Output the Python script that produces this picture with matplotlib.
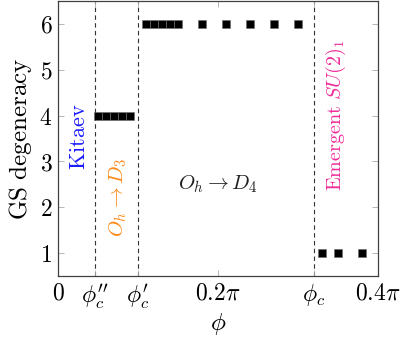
import matplotlib
matplotlib.use("Agg")
import matplotlib.pyplot as plt

plt.rcParams['mathtext.fontset'] = 'cm'
plt.rcParams['font.family'] = ['DejaVu Serif']

# data (phi in units of pi)
phi_d4 = [0.05, 0.06, 0.07, 0.08, 0.09]
deg_d4 = [4, 4, 4, 4, 4]
phi_d6 = [0.11, 0.12, 0.13, 0.14, 0.15, 0.18, 0.21, 0.24, 0.27, 0.30]
deg_d6 = [6, 6, 6, 6, 6, 6, 6, 6, 6, 6]
phi_d1 = [0.33, 0.35, 0.38]
deg_d1 = [1, 1, 1]

phi_crit = [0.046, 0.1, 0.32]  # phi_c'', phi_c', phi_c

xticks = [0, 0.046, 0.1, 0.2, 0.32, 0.4]
xticklabels = [r'$0$', r"$\phi_c''$", r"$\phi_c'$", r'$0.2\pi$', r'$\phi_c$', r'$0.4\pi$']
yticks = [1, 2, 3, 4, 5, 6]

fig = plt.figure(figsize=(4.09, 3.39), dpi=100)
ax = fig.add_axes([0.1418, 0.1858, 0.7824, 0.8112])

for p in phi_crit:
    ax.axvline(p, color='#333333', lw=0.8, ls=(0, (4, 3)), zorder=1)

for xs, ys in [(phi_d4, deg_d4), (phi_d6, deg_d6), (phi_d1, deg_d1)]:
    ax.plot(xs, ys, ls='none', marker='s', ms=5.8, mfc='black', mec='#707070',
            mew=0.4, zorder=3)

ax.set_xlim(0, 0.4)
ax.set_ylim(0.5, 6.5)
ax.set_xticks(xticks)
ax.set_xticklabels(xticklabels)
ax.set_yticks(yticks)
ax.set_yticklabels([r'$%d$' % v for v in yticks])
ax.tick_params(direction='in', length=4, width=0.6, color='#aaaaaa',
               labelsize=17, top=True, right=True, pad=4)
for s in ax.spines.values():
    s.set_color('#404040')
    s.set_linewidth(0.9)

ax.set_ylabel(r'$\mathrm{GS\ degeneracy}$', fontsize=18, labelpad=4)
ax.set_xlabel(r'$\phi$', fontsize=18, labelpad=0)

ax.text(0.026, 3.54, r'$\mathrm{Kitaev}$', color='#1a1aff', fontsize=16,
        rotation=90, ha='center', va='center')
ax.text(0.075, 2.23, r'$O_h \rightarrow D_3$', color='#ff8a1a', fontsize=15,
        rotation=90, ha='center', va='center')
ax.text(0.2, 2.5, r'$O_h \rightarrow D_4$', color='#202020', fontsize=15,
        ha='center', va='center')
ax.text(0.348, 4.02, r'$\mathrm{Emergent}\ SU(2)_1$', color='#ee2b9a', fontsize=14.5,
        rotation=90, ha='center', va='center')

fig.savefig('out.png', dpi=100)
